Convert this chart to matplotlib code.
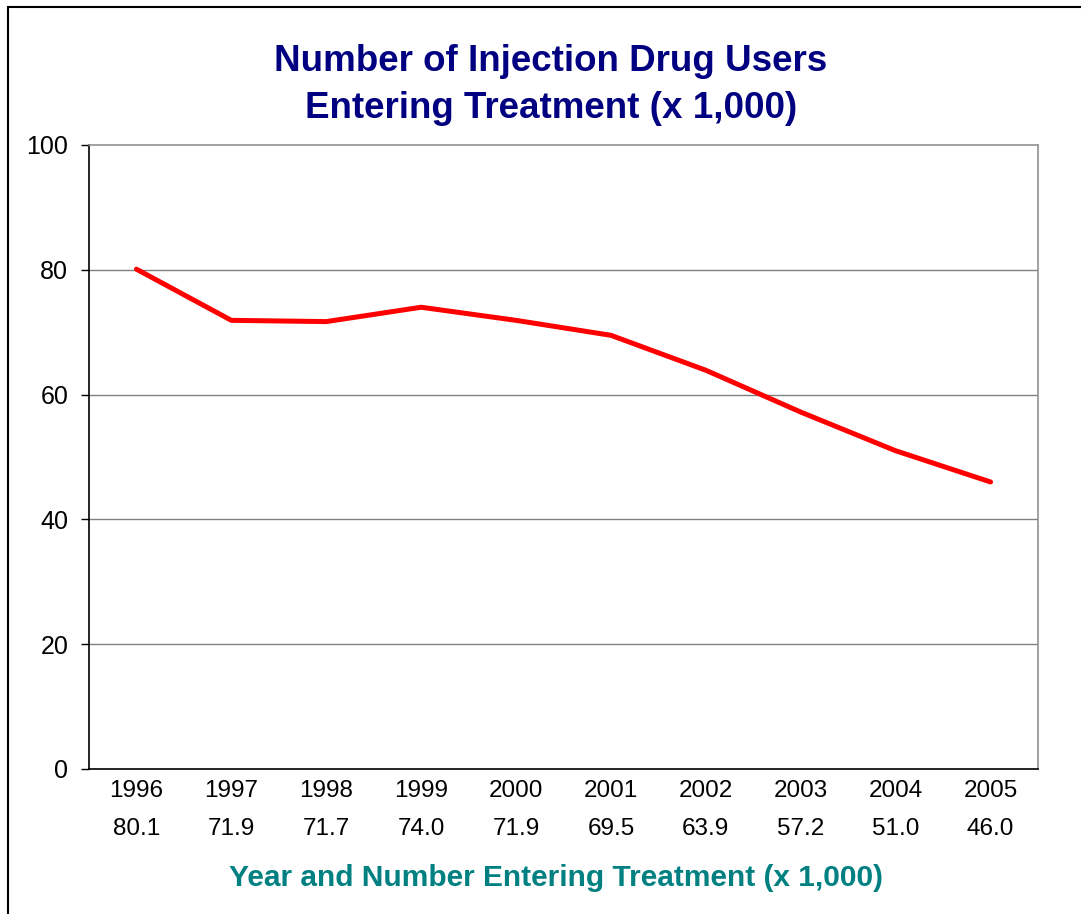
import matplotlib
matplotlib.use("Agg")
import matplotlib.pyplot as plt
from matplotlib.patches import Rectangle

years = ["1996", "1997", "1998", "1999", "2000", "2001", "2002", "2003", "2004", "2005"]
values = [80.1, 71.9, 71.7, 74.0, 71.9, 69.5, 63.9, 57.2, 51.0, 46.0]
value_labels = ["80.1", "71.9", "71.7", "74.0", "71.9", "69.5", "63.9", "57.2", "51.0", "46.0"]
yticks = [0, 20, 40, 60, 80, 100]

plt.rcParams['font.family'] = ['Liberation Sans', 'DejaVu Sans']

W, H = 1081, 914
fig = plt.figure(figsize=(W / 100, H / 100), dpi=100)
fig.patch.set_facecolor("white")

# outer frame (cut off at right and bottom)
fig.add_artist(Rectangle((8 / W, -0.1), 1.2, 1 - 7 / H + 0.1, transform=fig.transFigure,
                         fill=False, edgecolor="black", linewidth=1.5))

ax = fig.add_axes([89 / W, 1 - 769 / H, 949 / W, 624 / H])
x = list(range(len(years)))
ax.plot(x, values, color="#FF0000", linewidth=3.6, solid_capstyle="round", zorder=3)

ax.set_xlim(-0.5, len(years) - 0.5)
ax.set_ylim(0, 100)
ax.set_yticks(yticks)
ax.set_yticklabels([str(t) for t in yticks], fontsize=18)
ax.set_xticks(x)
ax.set_xticklabels([f"{y}\n{v}" for y, v in zip(years, value_labels)], fontsize=17.5,
                   linespacing=1.95)
ax.tick_params(axis="x", length=0, pad=8)
ax.tick_params(axis="y", length=6, width=1, pad=9, direction="out")

for g in [20, 40, 60, 80]:
    ax.axhline(g, color="#808080", linewidth=1.0, zorder=1)

ax.spines["left"].set_color("black")
ax.spines["bottom"].set_color("black")
ax.spines["top"].set_color("#909090")
ax.spines["right"].set_color("#909090")
for s in ax.spines.values():
    s.set_linewidth(1.2)

fig.text(551 / W, 1 - 85 / H, "Number of Injection Drug Users\nEntering Treatment (x 1,000)",
         ha="center", va="center", fontsize=26.5, fontweight="bold", color="#000080",
         linespacing=1.47)

fig.text(556 / W, 1 - 878 / H, "Year and Number Entering Treatment (x 1,000)",
         ha="center", va="center", fontsize=21.5, fontweight="bold", color="#008080")

fig.savefig("out.png", dpi=100, facecolor="white")
